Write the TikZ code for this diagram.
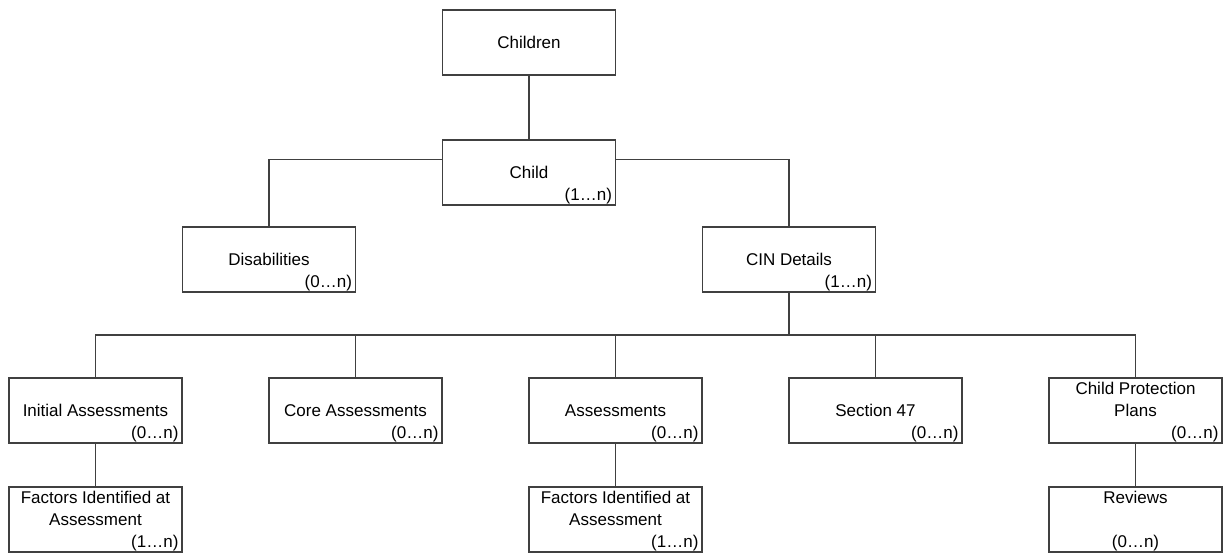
\documentclass[tikz,border=0pt]{standalone}
\usepackage{fontspec}
\setmainfont{Liberation Sans}

\tikzset{
  entity/.style={draw=black!75, line width=1.3pt, minimum width=173pt, minimum height=65pt,
    inner sep=0pt, align=center, font=\fontsize{17}{22}\selectfont},
  card/.style={inner xsep=4pt, inner ysep=1.5pt, font=\fontsize{17}{22}\selectfont},
  link/.style={draw=black!75, line width=1.3pt}
}

\begin{document}
\begin{tikzpicture}[x=1pt, y=-1pt]
            \useasboundingbox (0,0) rectangle (1227,556);
            % top of the tree
            \node[entity] (children) at (529,42.5) {Children};
            \node[entity] (child) at (529,172.5) {Child};
            \node[card, anchor=south east] (childcard) at (child.south east) {(1…n)};
            \node[entity] (disab) at (269,259.5) {Disabilities};
            \node[card, anchor=south east] (disabcard) at (disab.south east) {(0…n)};
            \node[entity] (cin) at (789,259.5) {CIN Details};
            \node[card, anchor=south east] (cincard) at (cin.south east) {(1…n)};
            % row under CIN Details
            \node[entity] (ia) at (95.5,410.5) {Initial Assessments};
            \node[card, anchor=south east] (iacard) at (ia.south east) {(0…n)};
            \node[entity] (core) at (355.5,410.5) {Core Assessments};
            \node[card, anchor=south east] (corecard) at (core.south east) {(0…n)};
            \node[entity] (ass) at (615.5,410.5) {Assessments};
            \node[card, anchor=south east] (asscard) at (ass.south east) {(0…n)};
            \node[entity] (sec) at (875.5,410.5) {Section 47};
            \node[card, anchor=south east] (seccard) at (sec.south east) {(0…n)};
            \node[entity] (cpp) at (1135.5,410.5) {Child Protection\\Plans\\ };
            \node[card, anchor=south east] (cppcard) at (cpp.south east) {(0…n)};
            % bottom row
            \node[entity] (iafact) at (95.5,519.5) {Factors Identified at\\Assessment\\ };
            \node[card, anchor=south east] (iafactcard) at (iafact.south east) {(1…n)};
            \node[entity] (assfact) at (615.5,519.5) {Factors Identified at\\Assessment\\ };
            \node[card, anchor=south east] (assfactcard) at (assfact.south east) {(1…n)};
            \node[entity] (rev) at (1135.5,519.5) {Reviews\\ \\ };
            \node[card, anchor=south] (revcard) at (rev.south) {(0…n)};
            % connectors
            \coordinate (bus) at (789,335);
            \draw[link] (children) -- (child);
            \draw[link] ([yshift=-20pt]child.north west) -| (disab);
            \draw[link] ([yshift=-20pt]child.north east) -| (cin);
            \draw[link] (cin) -- (bus);
            \draw[link] (ia) |- (bus);
            \draw[link] (cpp) |- (bus);
            \draw[link] (core) -- (core |- bus);
            \draw[link] (ass) -- (ass |- bus);
            \draw[link] (sec) -- (sec |- bus);
            \draw[link] (ia) -- (iafact);
            \draw[link] (ass) -- (assfact);
            \draw[link] (cpp) -- (rev);
        \end{tikzpicture}
\end{document}
